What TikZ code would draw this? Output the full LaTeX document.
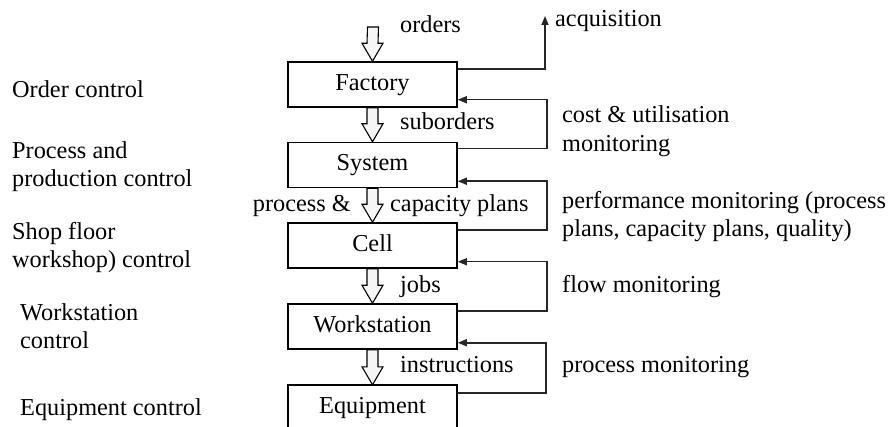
\documentclass[tikz,border=0pt]{standalone}
\usepackage{fontspec}
\setmainfont{Liberation Serif}
\usetikzlibrary{calc,arrows.meta}
\begin{document}
\begin{tikzpicture}[x=1pt,y=-1pt,
  every node/.style={font=\fontsize{24.3}{28}\selectfont, inner sep=0pt},
  lbl/.style={anchor=base west},
  level/.style={minimum width=169pt, minimum height=45pt, text height=17pt, text depth=5pt},
  framed/.style={level, draw, line width=1.5pt},
  fb/.style={line width=1.5pt, draw=black!85},
  fbarrow/.style={fb, -{Triangle[length=9pt,width=7pt]}},
  hollow/.style={draw, line width=1.1pt, fill=black!4, line join=miter}
]
\useasboundingbox (0,0) rectangle (888,427);

% boxes
\node[framed] (fac)  at (372.5,84.5)  {Factory};
\node[framed] (sys)  at (372.5,165)   {System};
\node[framed] (cell) at (372.5,245.5) {Cell};
\node[framed] (ws)   at (372.5,326.5) {Workstation};
\node[level]  (eq)   at (372.5,407.5) {Equipment};
\draw[line width=1.5pt] ([yshift=-3pt]eq.south west) -- (eq.north west) -- (eq.north east) -- ([yshift=-3pt]eq.south east);

% hollow arrows
\newcommand{\hollowarrow}[2]{%
  \draw[hollow] ($(#1)+(-5.5,0)$) -- ($(#2)+(-5.5,-18)$) -- ($(#2)+(-10.5,-18)$) -- (#2)
    -- ($(#2)+(10.5,-18)$) -- ($(#2)+(5.5,-18)$) -- ($(#1)+(5.5,0)$) -- cycle;}
\coordinate (ordtop) at (373,27);
\hollowarrow{ordtop}{fac.north}
\hollowarrow{fac.south}{sys.north}
\hollowarrow{sys.south}{cell.north}
\hollowarrow{cell.south}{ws.north}
\hollowarrow{ws.south}{eq.north}

% feedback lines
\coordinate (acqtip) at (545,16);
\draw[fbarrow] ([yshift=-8pt]fac.north east) -| (acqtip);
\draw[fbarrow] ([yshift=-7pt]sys.north east) -- ++(89,0) |- ([yshift=8pt]fac.south east);
\draw[fbarrow] ([yshift=-8pt]cell.north east) -- ++(89,0) |- ([yshift=7pt]sys.south east);
\draw[fbarrow] ([yshift=-8pt]ws.north east) -- ++(89,0) |- ([yshift=7pt]cell.south east);
\draw[fbarrow] ([yshift=-8pt]eq.north east) -- ++(89,0) |- ([yshift=7pt]ws.south east);

% arrow labels
\node[lbl] (t1) at (400,33) {orders};
\node[lbl] (t2) at (400,130) {suborders};
\node[anchor=base east] (t3) at (351,212) {process \&};
\node[lbl] (t4) at (390,212) {capacity plans};
\node[lbl] (t5) at (400,293) {jobs};
\node[lbl] (t6) at (400,372) {instructions};

% right labels
\node[lbl] (r0) at (555,27) {acquisition};
\node[lbl] (r1) at (562,123) {cost \& utilisation};
\node[lbl] (r2) at (562,152) {monitoring};
\node[lbl] (r3) at (562,209) {performance monitoring (process};
\node[lbl] (r4) at (562,237) {plans, capacity plans, quality)};
\node[lbl] (r5) at (562,293) {flow monitoring};
\node[lbl] (r6) at (562,372) {process monitoring};

% left labels
\node[lbl] (l1) at (12,98) {Order control};
\node[lbl] (l2) at (12,159) {Process and};
\node[lbl] (l3) at (12,187) {production control};
\node[lbl] (l4) at (12,240) {Shop floor};
\node[lbl] (l5) at (12,268) {workshop) control};
\node[lbl] (l6) at (20,320) {Workstation};
\node[lbl] (l7) at (20,348) {control};
\node[lbl] (l8) at (20,415) {Equipment control};
\end{tikzpicture}
\end{document}
